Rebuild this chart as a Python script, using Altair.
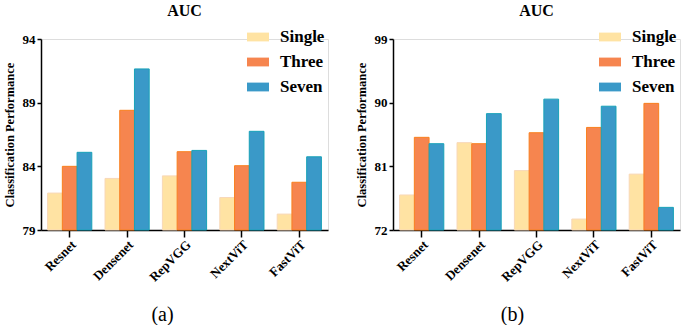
import altair as alt
import pandas as pd

models = ["Resnet", "Densenet", "RepVGG", "NextViT", "FastViT"]
groups = ["Single", "Three", "Seven"]

a_single = [81.9, 83.05, 83.25, 81.55, 80.25]
a_three = [84.0, 88.4, 85.15, 84.05, 82.75]
a_seven = [85.1, 91.65, 85.25, 86.75, 84.75]

b_single = [76.95, 84.35, 80.4, 73.55, 79.9]
b_three = [85.1, 84.2, 85.75, 86.5, 89.9]
b_seven = [84.2, 88.45, 90.5, 89.5, 75.2]

a_ticks = [79, 84, 89, 94]
b_ticks = [72, 81, 90, 99]

fills = ["#FFE3A3", "#F6854F", "#3A99C8"]
strokes = ["#F8D8B8", "#F9801E", "#18A2B8"]

FONT = "Liberation Serif"


def make_df(s, t, v):
    rows = []
    for i, m in enumerate(models):
        rows.append({"model": m, "group": "Single", "value": s[i]})
        rows.append({"model": m, "group": "Three", "value": t[i]})
        rows.append({"model": m, "group": "Seven", "value": v[i]})
    return pd.DataFrame(rows)


def panel(df, ticks, sub, title_x):
    lo, hi = ticks[0], ticks[-1]
    return alt.Chart(df).mark_bar(strokeWidth=1).encode(
        x=alt.X(
            "model:N", sort=models,
            scale=alt.Scale(paddingInner=0.23, paddingOuter=0.115),
            axis=alt.Axis(
                title=sub, titleFont=FONT, titleFontSize=20, titleFontWeight="normal",
                titleColor="black", titlePadding=21, titleX=title_x, titleAlign="center",
                labelAngle=-45, labelAlign="right", labelBaseline="top",
                labelFont=FONT, labelFontSize=13, labelFontWeight="bold",
                labelColor="black", labelPadding=1,
                domainColor="black", domainWidth=1.5, tickColor="black",
                tickWidth=1.5, tickSize=7,
            ),
        ),
        xOffset=alt.XOffset("group:N", sort=groups, scale=alt.Scale(paddingInner=0, paddingOuter=0)),
        y=alt.Y(
            "value:Q",
            scale=alt.Scale(domain=[lo, hi], zero=False, nice=False),
            axis=alt.Axis(
                values=ticks, grid=False, title="Classification Performance",
                titleFont=FONT, titleFontSize=12.5, titleFontWeight="bold",
                titleColor="black", titlePadding=6,
                labelFont=FONT, labelFontSize=13, labelFontWeight="bold",
                labelColor="black", labelPadding=2,
                domainColor="black", domainWidth=1.5, tickColor="black",
                tickWidth=1.5, tickSize=4,
            ),
        ),
        y2=alt.datum(lo),
        color=alt.Color(
            "group:N", sort=groups,
            scale=alt.Scale(domain=groups, range=fills),
            legend=alt.Legend(
                title=None, orient="none", legendX=206, legendY=-13,
                symbolType="M-1,-0.4L1,-0.4L1,0.4L-1,0.4Z", symbolSize=484,
                symbolStrokeWidth=0, rowPadding=6, labelOffset=11,
                labelFont=FONT, labelFontSize=17, labelFontWeight="bold",
                labelColor="black",
            ),
        ),
        stroke=alt.Stroke("group:N", sort=groups,
                          scale=alt.Scale(domain=groups, range=strokes), legend=None),
    ).properties(
        width=287, height=191,
        title=alt.TitleParams("AUC", font=FONT, fontSize=16, fontWeight="bold",
                              color="black", anchor="middle", offset=7),
    )


left = panel(make_df(a_single, a_three, a_seven), a_ticks, "(a)", 121)
right = panel(make_df(b_single, b_three, b_seven), b_ticks, "(b)", 119)

chart = alt.hconcat(left, right, spacing=25).resolve_scale(
    color="independent", stroke="independent"
).resolve_legend(color="independent").properties(
    padding={"left": 2, "top": 2, "right": 0, "bottom": 0}
).configure_view(stroke=None).configure(background="white")

chart.save("out.html", embed_options={"renderer": "svg", "actions": False})
